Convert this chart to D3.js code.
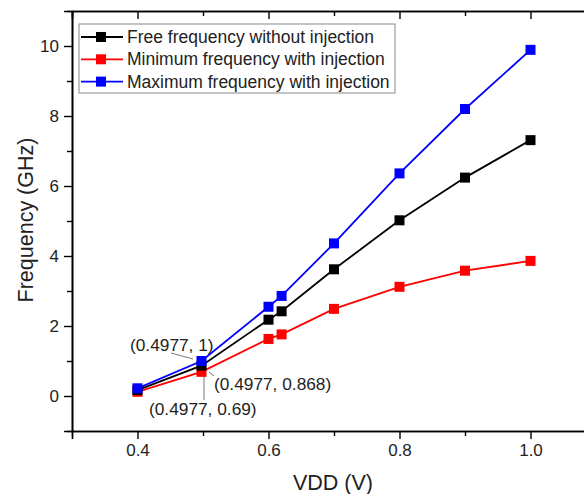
<!DOCTYPE html>
<html>
<head>
<meta charset="utf-8">
<script src="https://cdn.jsdelivr.net/npm/d3@7"></script>
<style>
  body { margin: 0; background: #fff; }
  svg { display: block; font-family: "Liberation Sans", Arial, sans-serif; }
</style>
</head>
<body>
<svg id="chart" width="584" height="494"></svg>
<script>
'use strict';

const vdd = [0.4, 0.4977, 0.6, 0.62, 0.7, 0.8, 0.9, 1.0];
const freeFreq = [0.17, 0.868, 2.18, 2.42, 3.62, 5.02, 6.24, 7.31];
const minFreq = [0.12, 0.69, 1.63, 1.76, 2.49, 3.12, 3.58, 3.86];
const maxFreq = [0.22, 1.0, 2.55, 2.86, 4.36, 6.36, 8.2, 9.89];

const seriesNames = [
    'Free frequency without injection',
    'Minimum frequency with injection',
    'Maximum frequency with injection'
];
const seriesColors = ['#000000', '#ff0000', '#0000ff'];

const xTicks = [0.4, 0.6, 0.8, 1.0];
const yTicks = [0, 2, 4, 6, 8, 10];

const notes = [
    { text: '(0.4977, 1)', x: 0.4977, y: 1.0 },
    { text: '(0.4977, 0.868)', x: 0.4977, y: 0.868 },
    { text: '(0.4977, 0.69)', x: 0.4977, y: 0.69 }
];

const svg = d3.select('#chart');
const margin = { left: 72, top: 11, bottom: 63 };
const height = 494;

const x = d3.scaleLinear().domain([0.3, 1.1]).range([margin.left, margin.left + 655 * 0.8]);
const y = d3.scaleLinear().domain([-1, 11]).range([height - margin.bottom, margin.top]);

const x0 = x.range()[0];
const y0 = y.range()[0], y1 = y.range()[1];

// minor tick positions
const xMinor = d3.range(3, 11).map(d => d / 10).filter(d => !xTicks.some(t => Math.abs(t - d) < 1e-6));
const yMinor = d3.range(-1, 12).filter(d => !yTicks.includes(d));

// axes
const axBottom = svg.append('g').attr('transform', `translate(0,${y0})`)
    .call(d3.axisBottom(x).tickValues(xTicks).tickFormat(d3.format('.1f')).tickSizeOuter(0).tickSize(8).tickPadding(5));
axBottom.append('g').call(d3.axisBottom(x).tickValues(xMinor).tickFormat('').tickSize(5).tickSizeOuter(0));

const axTop = svg.append('g').attr('transform', `translate(0,${y1})`)
    .call(d3.axisTop(x).tickValues(xTicks).tickFormat('').tickSizeOuter(0).tickSize(-8));
axTop.append('g').call(d3.axisTop(x).tickValues(xMinor).tickFormat('').tickSize(-5).tickSizeOuter(0));

const axLeft = svg.append('g').attr('transform', `translate(${x0},0)`)
    .call(d3.axisLeft(y).tickValues(yTicks).tickSizeOuter(0).tickSize(8).tickPadding(5));
axLeft.append('g').call(d3.axisLeft(y).tickValues(yMinor).tickFormat('').tickSize(5).tickSizeOuter(0));

svg.selectAll('.domain').attr('stroke', '#000').attr('stroke-width', 1.6);
svg.selectAll('.tick line').attr('stroke', '#000').attr('stroke-width', 1.4);
svg.selectAll('.tick text').attr('font-size', 17).attr('fill', '#222').attr('font-family', '"Liberation Sans", Arial, sans-serif');

// axis titles
svg.append('text')
    .attr('x', 333).attr('y', 490)
    .attr('text-anchor', 'middle')
    .attr('font-size', 21.5).attr('fill', '#222')
    .text('VDD (V)');

svg.append('text')
    .attr('transform', 'translate(33,220) rotate(-90)')
    .attr('text-anchor', 'middle')
    .attr('font-size', 21.5).attr('fill', '#222')
    .text('Frequency (GHz)');

// series
const allSeries = [freeFreq, minFreq, maxFreq];
const line = d3.line().x((d, i) => x(vdd[i])).y(d => y(d));
const drawOrder = [1, 0, 2];

drawOrder.forEach(s => {
    const vals = allSeries[s];
    svg.append('path')
        .attr('d', line(vals))
        .attr('fill', 'none')
        .attr('stroke', seriesColors[s])
        .attr('stroke-width', 1.8);
    svg.append('g').selectAll('rect')
        .data(vals)
        .join('rect')
        .attr('x', (d, i) => x(vdd[i]) - 5)
        .attr('y', d => y(d) - 5)
        .attr('width', 10).attr('height', 10)
        .attr('fill', seriesColors[s]);
});

// annotations with leader lines
const noteLayout = [
    { tx: 130, ty: 351, lx1: 171, ly1: 353, lx2: 193, ly2: 359 },
    { tx: 214, ty: 390, lx1: 209, ly1: 372, lx2: 214, ly2: 376 },
    { tx: 149, ty: 415, lx1: 204, ly1: 376, lx2: 204, ly2: 400 }
];
notes.forEach((n, i) => {
    const p = noteLayout[i];
    svg.append('line')
        .attr('x1', p.lx1).attr('y1', p.ly1)
        .attr('x2', p.lx2).attr('y2', p.ly2)
        .attr('stroke', '#555').attr('stroke-width', 0.8);
    svg.append('text')
        .attr('x', p.tx).attr('y', p.ty)
        .attr('font-size', 17.3).attr('fill', '#222')
        .text(n.text);
});

// legend
const legend = svg.append('g').attr('transform', 'translate(79,24)');
legend.append('rect')
    .attr('width', 316).attr('height', 69)
    .attr('fill', '#fff').attr('stroke', '#888').attr('stroke-width', 1);
seriesNames.forEach((name, i) => {
    const cy = 13 + i * 22.3;
    legend.append('line')
        .attr('x1', 2).attr('x2', 44)
        .attr('y1', cy).attr('y2', cy)
        .attr('stroke', seriesColors[i]).attr('stroke-width', 1.8);
    legend.append('rect')
        .attr('x', 17).attr('y', cy - 5)
        .attr('width', 10).attr('height', 10)
        .attr('fill', seriesColors[i]);
    legend.append('text')
        .attr('x', 48).attr('y', cy + 6)
        .attr('font-size', 17.5).attr('fill', '#222')
        .text(name);
});
</script>
</body>
</html>
